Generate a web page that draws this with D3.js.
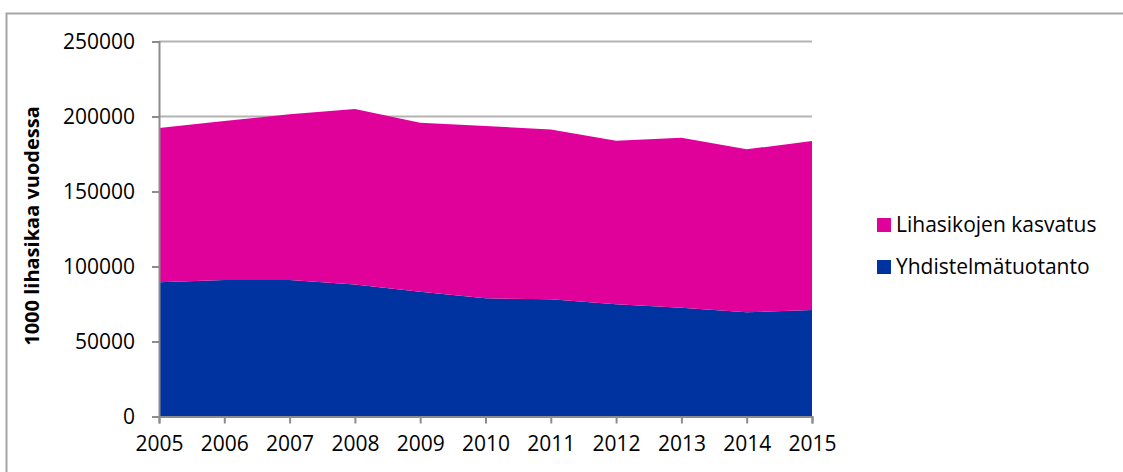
<!DOCTYPE html>
<html>
<head>
<meta charset="utf-8">
<script src="https://d3js.org/d3.v7.min.js"></script>
<style>
  body { margin: 0; background: #fff; }
  text { font-family: "Open Sans", Lato, sans-serif; fill: #000; }
</style>
</head>
<body>
<div id="chart"></div>
<script>
var years = [2005, 2006, 2007, 2008, 2009, 2010, 2011, 2012, 2013, 2014, 2015];
var yhdistelma = [89500, 91000, 91000, 88000, 83200, 78800, 78100, 74800, 72500, 69500, 71000];
var kasvatus = [102800, 106000, 110500, 117000, 112700, 114900, 113300, 109100, 113400, 108600, 112700];
var yTicks = [0, 50000, 100000, 150000, 200000, 250000];
var seriesNames = ["Yhdistelmätuotanto", "Lihasikojen kasvatus"];
var colors = ["#0033A0", "#E0009A"];

var svgWidth = 1123;
var svgHeight = 472;
var margin = { top: 41.5, right: 311, bottom: 55.5, left: 159 };
var width = svgWidth - margin.left - margin.right;
var height = svgHeight - margin.top - margin.bottom;

var svg = d3.select("#chart")
  .append("svg")
  .attr("width", svgWidth)
  .attr("height", svgHeight);

// outer frame (only top and left visible)
svg.append("path")
  .attr("d", "M6.5,472 V13.5 H1123")
  .attr("fill", "none")
  .attr("stroke", "#a6a6a6")
  .attr("stroke-width", 2);

var chartGroup = svg.append("g")
  .attr("transform", `translate(${margin.left}, ${margin.top})`);

var data = years.map(function(y, i) {
  return { year: y, "Yhdistelmätuotanto": yhdistelma[i], "Lihasikojen kasvatus": kasvatus[i] };
});

var x = d3.scaleLinear()
  .domain(d3.extent(years))
  .range([0, width]);

var y = d3.scaleLinear()
  .domain([0, 250000])
  .range([height, 0]);

// gridlines
chartGroup.append("g")
  .selectAll("line")
  .data(yTicks.slice(1))
  .enter()
  .append("line")
  .attr("x1", 0)
  .attr("x2", width)
  .attr("y1", d => y(d))
  .attr("y2", d => y(d))
  .attr("stroke", "#b3b3b3")
  .attr("stroke-width", 2);

var stacked = d3.stack().keys(seriesNames)(data);

var area = d3.area()
  .x(d => x(d.data.year))
  .y0(d => y(d[0]))
  .y1(d => y(d[1]));

chartGroup.selectAll(".layer")
  .data(stacked)
  .enter()
  .append("path")
  .attr("class", "layer")
  .attr("d", area)
  .attr("fill", (d, i) => colors[i]);

// axes
var leftAxis = d3.axisLeft(y).tickValues(yTicks).tickSize(7).tickPadding(17).tickFormat(d3.format("d"));
var bottomAxis = d3.axisBottom(x).tickValues(years).tickSize(7).tickPadding(13).tickFormat(d3.format("d"));

var yAxisG = chartGroup.append("g").call(leftAxis);
var xAxisG = chartGroup.append("g")
  .attr("transform", `translate(0, ${height})`)
  .call(bottomAxis);

[yAxisG, xAxisG].forEach(function(g) {
  g.select(".domain").attr("stroke", "#8c8c8c").attr("stroke-width", 2);
  g.selectAll(".tick line").attr("stroke", "#8c8c8c").attr("stroke-width", 2);
  g.selectAll(".tick text").style("font-size", "21px").attr("fill", "#111");
});
yAxisG.selectAll(".tick text").attr("dy", "0.35em");

// y axis title
svg.append("text")
  .attr("transform", "translate(39, 226) rotate(-90)")
  .attr("text-anchor", "middle")
  .style("font-size", "20px")
  .style("font-weight", "bold")
  .text("1000 lihasikaa vuodessa");

// legend
var legendItems = [
  { name: "Lihasikojen kasvatus", color: colors[1] },
  { name: "Yhdistelmätuotanto", color: colors[0] }
];
var legend = svg.append("g").attr("transform", "translate(877, 218)");
legendItems.forEach(function(item, i) {
  var row = legend.append("g").attr("transform", `translate(0, ${i * 42})`);
  row.append("rect")
    .attr("width", 14)
    .attr("height", 14)
    .attr("fill", item.color);
  row.append("text")
    .attr("x", 19)
    .attr("y", 7)
    .attr("dy", "0.35em")
    .style("font-size", "21px")
    .attr("fill", "#111")
    .text(item.name);
});
</script>
</body>
</html>
